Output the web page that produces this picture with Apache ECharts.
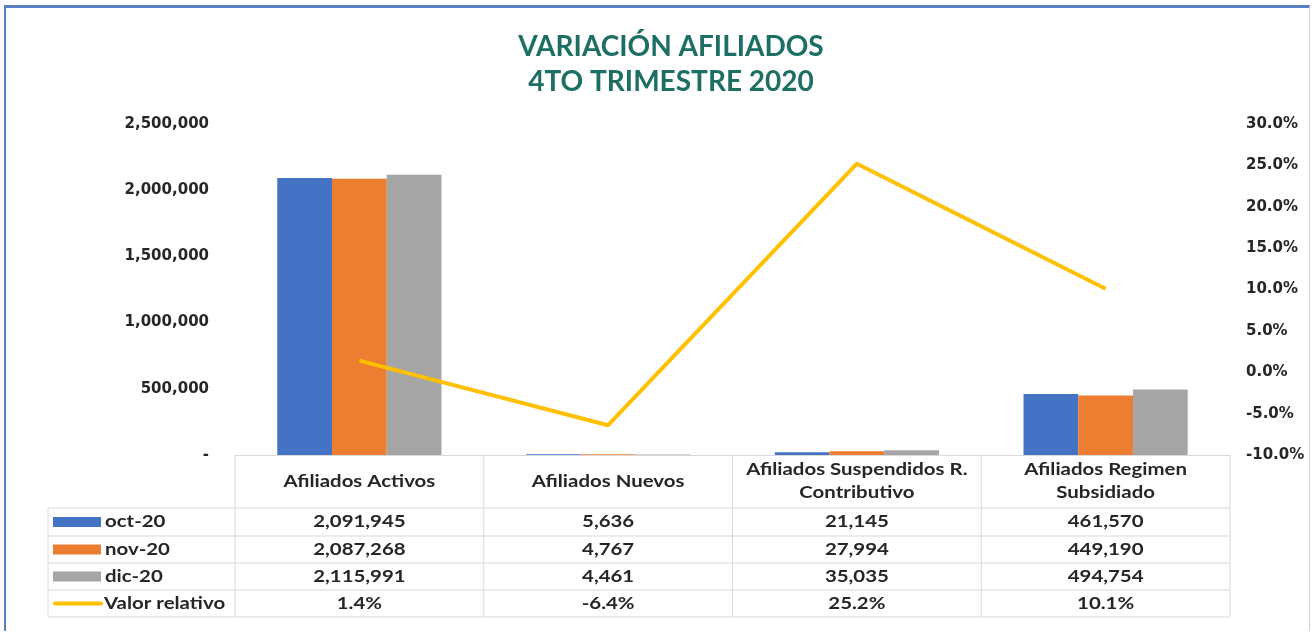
<!DOCTYPE html>
<html>
<head>
<meta charset="utf-8">
<script src="https://cdn.jsdelivr.net/npm/echarts@6/dist/echarts.min.js"></script>
<style>
  html, body { margin: 0; padding: 0; background: #fff; }
  #frame {
    position: absolute; left: 4px; top: 5px; width: 1306px; height: 626px;
    border-left: 2px solid #5b7fc4; border-top: 3px solid #5b7fc4; border-right: 1px solid #c9d3e8;
    box-sizing: border-box;
  }
  #chart { position: absolute; left: 0; top: 0; width: 1315px; height: 635px; }
</style>
</head>
<body>
<div id="frame"></div>
<div id="chart"></div>
<script>
const categories = [
  "Afiliados Activos",
  "Afiliados Nuevos",
  "Afiliados Suspendidos R.\nContributivo",
  "Afiliados Regimen\nSubsidiado",
];
const months = ["oct-20", "nov-20", "dic-20"];
const octValues = [2091945, 5636, 21145, 461570];
const novValues = [2087268, 4767, 27994, 449190];
const dicValues = [2115991, 4461, 35035, 494754];
const relativeValues = [0.014, -0.064, 0.252, 0.101];
const lineName = "Valor relativo";

const colors = ["#4472C4", "#ED7D31", "#A5A5A5"];
const lineColor = "#FFC000";
const font = "Lato, 'Open Sans', sans-serif";
const axisFont = "'DejaVu Sans', sans-serif";

// layout
const gridLeft = 235;
const gridRight = 85;
const gridTop = 124;
const axisY = 455;
const W = 1315;
const catW = (W - gridLeft - gridRight) / categories.length;
const rowLines = [axisY, 508, 536, 563, 590, 617];
const tableLeft = 48;
const border = "#d9d9d9";
const stretch = 1.2;

const fmt = (v) => v.toLocaleString("en-US");
const pct = (v) => (v * 100).toFixed(1) + "%";

const graphic = [];
// header row
for (let i = 0; i < categories.length; i++) {
  graphic.push({
    type: "text",
    x: gridLeft + catW * (i + 0.5),
    y: (rowLines[0] + rowLines[1]) / 2,
    scaleX: stretch,
    style: {
      text: categories[i],
      font: "bold 17px " + font,
      fill: "#262626",
      align: "center",
      verticalAlign: "middle",
      lineHeight: 23,
    },
  });
}
// vertical lines
for (let i = 0; i <= categories.length; i++) {
  graphic.push({
    type: "line",
    shape: { x1: gridLeft + catW * i, y1: axisY, x2: gridLeft + catW * i, y2: rowLines[5] },
    style: { stroke: border, lineWidth: 1 },
  });
}
graphic.push({
  type: "line",
  shape: { x1: tableLeft, y1: rowLines[1], x2: tableLeft, y2: rowLines[5] },
  style: { stroke: border, lineWidth: 1 },
});
// horizontal lines
for (let r = 1; r < rowLines.length; r++) {
  graphic.push({
    type: "line",
    shape: { x1: tableLeft, y1: rowLines[r], x2: W - gridRight, y2: rowLines[r] },
    style: { stroke: border, lineWidth: 1 },
  });
}
// data rows
const rows = [
  { name: months[0], vals: octValues.map(fmt), color: colors[0] },
  { name: months[1], vals: novValues.map(fmt), color: colors[1] },
  { name: months[2], vals: dicValues.map(fmt), color: colors[2] },
  { name: lineName, vals: relativeValues.map(pct), color: lineColor, line: true },
];
rows.forEach((row, r) => {
  const cy = (rowLines[r + 1] + rowLines[r + 2]) / 2;
  if (row.line) {
    graphic.push({
      type: "line",
      shape: { x1: 55, y1: cy, x2: 101, y2: cy },
      style: { stroke: row.color, lineWidth: 4, lineCap: "round" },
    });
  } else {
    graphic.push({
      type: "rect",
      shape: { x: 53, y: cy - 5, width: 48, height: 10 },
      style: { fill: row.color },
    });
  }
  graphic.push({
    type: "text",
    x: row.line ? 104 : 105,
    y: cy,
    scaleX: stretch,
    style: { text: row.name, font: "bold 17px " + font, fill: "#262626", verticalAlign: "middle" },
  });
  row.vals.forEach((t, i) => {
    graphic.push({
      type: "text",
      x: gridLeft + catW * (i + 0.5),
      y: cy,
      scaleX: stretch,
      style: { text: t, font: "bold 17px " + font, fill: "#262626", align: "center", verticalAlign: "middle" },
    });
  });
});

const chart = echarts.init(document.getElementById("chart"), null, { renderer: "canvas" });
const option = {
  animation: false,
  title: {
    text: "VARIACIÓN AFILIADOS\n4TO TRIMESTRE 2020",
    left: 666,
    textAlign: "center",
    top: 24,
    textStyle: {
      fontFamily: font,
      fontSize: 28,
      fontWeight: "bold",
      color: "#1d6f63",
      lineHeight: 35,
    },
  },
  grid: { left: gridLeft, right: gridRight, top: gridTop, bottom: 635 - axisY },
  xAxis: {
    type: "category",
    data: categories,
    axisLabel: { show: false },
    axisTick: { show: false },
    axisLine: { lineStyle: { color: border } },
  },
  yAxis: [
    {
      type: "value",
      min: 0,
      max: 2500000,
      interval: 500000,
      splitLine: { show: false },
      axisLine: { show: false },
      axisLabel: {
        margin: 26,
        fontFamily: axisFont,
        fontSize: 15,
        fontWeight: "bold",
        color: "#262626",
        formatter: (v) => (v === 0 ? "-" : fmt(v)),
      },
    },
    {
      type: "value",
      min: -0.1,
      max: 0.3,
      interval: 0.05,
      splitLine: { show: false },
      axisLine: { show: false },
      axisLabel: {
        margin: 16,
        fontFamily: axisFont,
        fontSize: 15,
        fontWeight: "bold",
        color: "#262626",
        formatter: (v) => pct(v),
      },
    },
  ],
  series: [
    { name: months[0], type: "bar", data: octValues, itemStyle: { color: colors[0] }, barGap: "0%", barCategoryGap: "34%" },
    { name: months[1], type: "bar", data: novValues, itemStyle: { color: colors[1] } },
    { name: months[2], type: "bar", data: dicValues, itemStyle: { color: colors[2] } },
    {
      name: lineName,
      type: "line",
      yAxisIndex: 1,
      data: relativeValues,
      symbol: "none",
      lineStyle: { color: lineColor, width: 4 },
      z: 5,
    },
  ],
  graphic: graphic,
};
chart.setOption(option);
</script>
</body>
</html>
